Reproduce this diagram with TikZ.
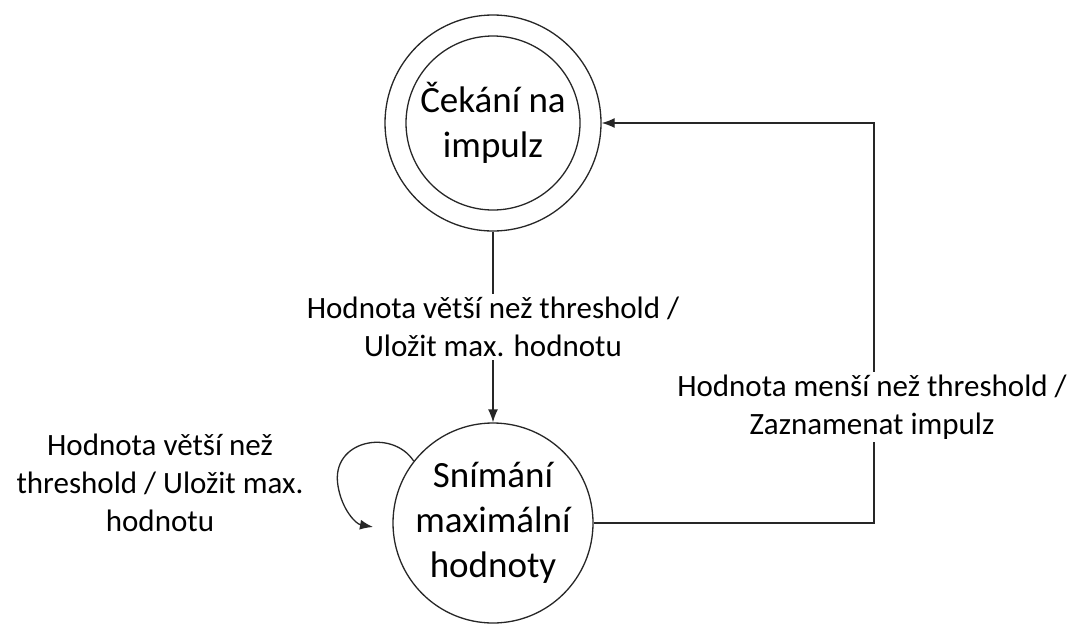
\documentclass[tikz,border=0pt]{standalone}
\usepackage{fontspec}
\setmainfont{Carlito}
\usetikzlibrary{arrows.meta}
\begin{document}
\begin{tikzpicture}[x=1pt,y=-1pt,
  state/.style={circle,draw=black!85,line width=1.3pt,inner sep=0pt,align=center,
    font=\fontsize{37}{45}\selectfont},
  lbl/.style={fill=white,inner sep=3pt,align=center,font=\fontsize{31}{38}\selectfont},
  arr/.style={draw=black!85,line width=1.3pt,-{Latex[length=13pt,width=10pt]}},
  plain/.style={draw=black!85,line width=1.3pt}]
\useasboundingbox (0,0) rectangle (1075,624);

% states
\node[state,minimum size=216pt] (wait) at (493,123) {};
\node[state,minimum size=174pt] (waitin) at (493,123) {Čekání na\\impulz};
\node[state,minimum size=200pt] (scan) at (493,523) {Snímání\\maximální\\hodnoty};

% start of pulse
\draw[arr] (wait.south) -- node[lbl] (lmid) {Hodnota větší než threshold /\\Uložit max. hodnotu} (scan.north);

% staying in the scanning state
\coordinate (loopend) at (373,527);
\draw[arr] (scan.142) .. controls (392,428) and (330,440) .. (338,486)
  .. controls (342,510) and (356,524) .. (loopend);
\node[lbl,fill=none] (lloop) at (160,483) {Hodnota větší než\\threshold / Uložit max.\\hodnotu};

% end of pulse, back to waiting
\coordinate (rc) at (874,123);
\draw[arr] (scan.east) -| (rc) -- (wait.east);
\node[lbl] (lright) at (872,407) {Hodnota menší než threshold /\\Zaznamenat impulz};
\end{tikzpicture}
\end{document}
